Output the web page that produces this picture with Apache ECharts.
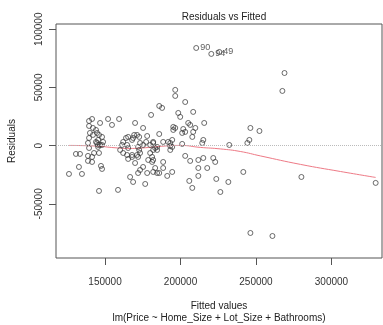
<!DOCTYPE html>
<html>
<head>
<meta charset="utf-8">
<script src="https://cdn.jsdelivr.net/npm/echarts@6/dist/echarts.min.js"></script>
<style>
html, body { margin: 0; padding: 0; background: #fff; }
#grafico { width: 383px; height: 325px; }
</style>
</head>
<body>
<div id="grafico"></div>
<script>
// fitted values and residuals
var fitted = [
  126100, 130700, 133400, 132700, 134700, 138700, 141400, 138700, 141400, 142700,
  146000, 147300, 148000, 146000, 158600, 139400, 141400, 139400, 142000, 144000,
  144700, 140000, 142000, 146000, 148000, 145400, 148700, 146700, 139400, 139400,
  146700, 152000, 154600, 159300, 138700, 144700, 145400, 148000, 162000, 163900,
  165300, 167900, 161300, 164600, 169300, 165300, 160000, 162000, 164600, 167900,
  165300, 166600, 168600, 169900, 175200, 180500, 185900, 187800, 196500, 196500,
  203100, 198500, 199800, 208400, 205100, 206400, 195200, 196500, 195200, 215700,
  201800, 201100, 203100, 209800, 208400, 207800, 171200, 172600, 168600, 177900,
  177200, 185900, 181900, 179900, 188500, 191800, 193200, 194500, 201100, 215100,
  214400, 232300, 246300, 252300, 245600, 244300, 268900, 267500, 167900, 171200,
  171900, 173200, 172600, 169900, 179900, 181200, 181900, 183200, 184500, 178600,
  181200, 181900, 183200, 181900, 184500, 175200, 173200, 171900, 177900, 188500,
  188500, 185900, 191200, 194500, 176600, 203100, 206400, 211800, 215100, 211800,
  211800, 205800, 207800, 181900, 184500, 193200, 194500, 193200, 173200, 175200,
  171900, 221700, 223000, 217700, 223700, 231700, 226400, 241600, 246300, 260900,
  280100, 329300, 144000, 145400
];
var residuals = [
  -24300, -7100, -7100, -18300, -24300, -8800, -9700, -13100, -14000, -6300,
  -6300, -17400, -20000, -38900, -38000, 21200, 22900, 16900, 15200, 13500,
  10900, 10900, 9200, 9200, 7500, 4900, 3200, 600, 6600, -2000,
  19500, 22900, 17800, 22900, 2300, 2300, -1100, 600, 3200, 6600,
  7500, 4900, 600, 600, 9200, -2000, -3700, -6300, -8000, -9700,
  -11400, -26900, -31200, 19500, 15200, 26400, 34100, 32400, 47900, 42700,
  37500, 28100, 24700, 29000, 19500, 17800, 16100, 15200, 13500, 19500,
  14300, 10900, 11800, 15200, 11800, 7500, 9200, 7500, 6600, 8300,
  3200, 10000, 2300, 600, 3200, 3200, 2300, 4900, 1500, 4900,
  2300, 600, 15200, 12600, 4900, 2300, 62400, 47000, -8000, -8000,
  -9700, -6300, -3700, -14900, -6300, -9700, -3700, -2000, -3700, -12300,
  -14000, -12300, -19200, -22600, -23500, -18300, -20900, -23500, -23500, -14000,
  -19200, -23500, -26000, -22600, -32900, -8800, -13100, -12300, -10600, -19200,
  -26000, -30300, -36300, 3200, -1100, -300, -1100, -3700, 2300, 600,
  -1100, -10600, -14000, -19200, -28600, -31200, -39800, -22600, -75000, -77600,
  -26900, -32000, 3200, 600
];
// the three labelled outliers
var idNames = ['90', '94', '49'];
var idFitted = [210400, 220400, 225700];
var idResid = [83900, 78800, 80500];

// smoother (red line)
var smoothX = [126100, 143400, 156600, 166600, 176600, 189800, 199800, 213100, 226400, 239600, 252900, 279500, 306000, 329300];
var smoothY = [200, -300, -1800, -2400, -1800, -300, 200, -1500, -2800, -5000, -8800, -16100, -22200, -27300];

var xTicks = [150000, 200000, 250000, 300000];
var yTicks = [-50000, 0, 50000, 100000];

var fonte = 'Arial, "Liberation Sans", sans-serif';

var pontos = fitted.map(function (f, i) { return [f, residuals[i]]; });
idNames.forEach(function (n, i) {
  pontos.push({
    value: [idFitted[i], idResid[i]],
    label: { show: true, formatter: n, position: 'right', distance: 1, fontSize: 9, color: '#333', fontFamily: fonte }
  });
});
var linha = smoothX.map(function (x, i) { return [x, smoothY[i]]; });

function semVirgula(v) { return String(v); }

var chartDom = document.getElementById('grafico');
var myChart = echarts.init(chartDom);
var option;
option = {
  animation: false,
  backgroundColor: '#fff',
  title: {
    text: 'Residuals vs Fitted',
    left: 219,
    top: 7,
    textAlign: 'center',
    textStyle: { fontSize: 10, fontWeight: 'normal', color: '#222', fontFamily: fonte }
  },
  grid: {
    left: 56, top: 24, right: 1, bottom: 67,
    outerBoundsMode: 'none',
    show: true, borderColor: '#555', borderWidth: 1
  },
  xAxis: {
    type: 'value',
    min: 117500,
    max: 333500,
    name: 'Fitted values\nlm(Price ~ Home_Size + Lot_Size + Bathrooms)',
    nameLocation: 'middle',
    nameGap: 42,
    nameTextStyle: { fontSize: 10, color: '#222', lineHeight: 12, fontFamily: fonte },
    axisLine: { show: false, onZero: false },
    splitLine: { show: false },
    axisTick: { show: true, inside: false, length: 7, customValues: xTicks, lineStyle: { color: '#555' } },
    axisLabel: { customValues: xTicks, formatter: semVirgula, margin: 19, fontSize: 10, color: '#333', fontFamily: fonte }
  },
  yAxis: {
    type: 'value',
    min: -96500,
    max: 104500,
    name: 'Residuals',
    nameLocation: 'middle',
    nameRotate: 90,
    nameGap: 39,
    nameTextStyle: { fontSize: 10, color: '#222', fontFamily: fonte },
    axisLine: { show: false, onZero: false },
    splitLine: { show: false },
    axisTick: { show: true, inside: false, length: 7, customValues: yTicks, lineStyle: { color: '#555' } },
    axisLabel: { customValues: yTicks, formatter: semVirgula, rotate: 90, margin: 12, fontSize: 10, color: '#333', fontFamily: fonte }
  },
  series: [
    {
      type: 'scatter',
      data: pontos,
      symbol: 'circle',
      symbolSize: 5,
      itemStyle: { color: 'rgba(0,0,0,0)', borderColor: '#333', borderWidth: 0.9 },
      labelLayout: { hideOverlap: false },
      markLine: {
        silent: true,
        symbol: 'none',
        label: { show: false },
        lineStyle: { color: '#bbb', type: 'dotted', width: 1 },
        data: [{ yAxis: 0 }]
      },
      z: 3
    },
    {
      type: 'line',
      data: linha,
      showSymbol: false,
      smooth: true,
      lineStyle: { color: '#ee7a86', width: 1 },
      z: 2
    }
  ]
};

option && myChart.setOption(option);
</script>
</body>
</html>
